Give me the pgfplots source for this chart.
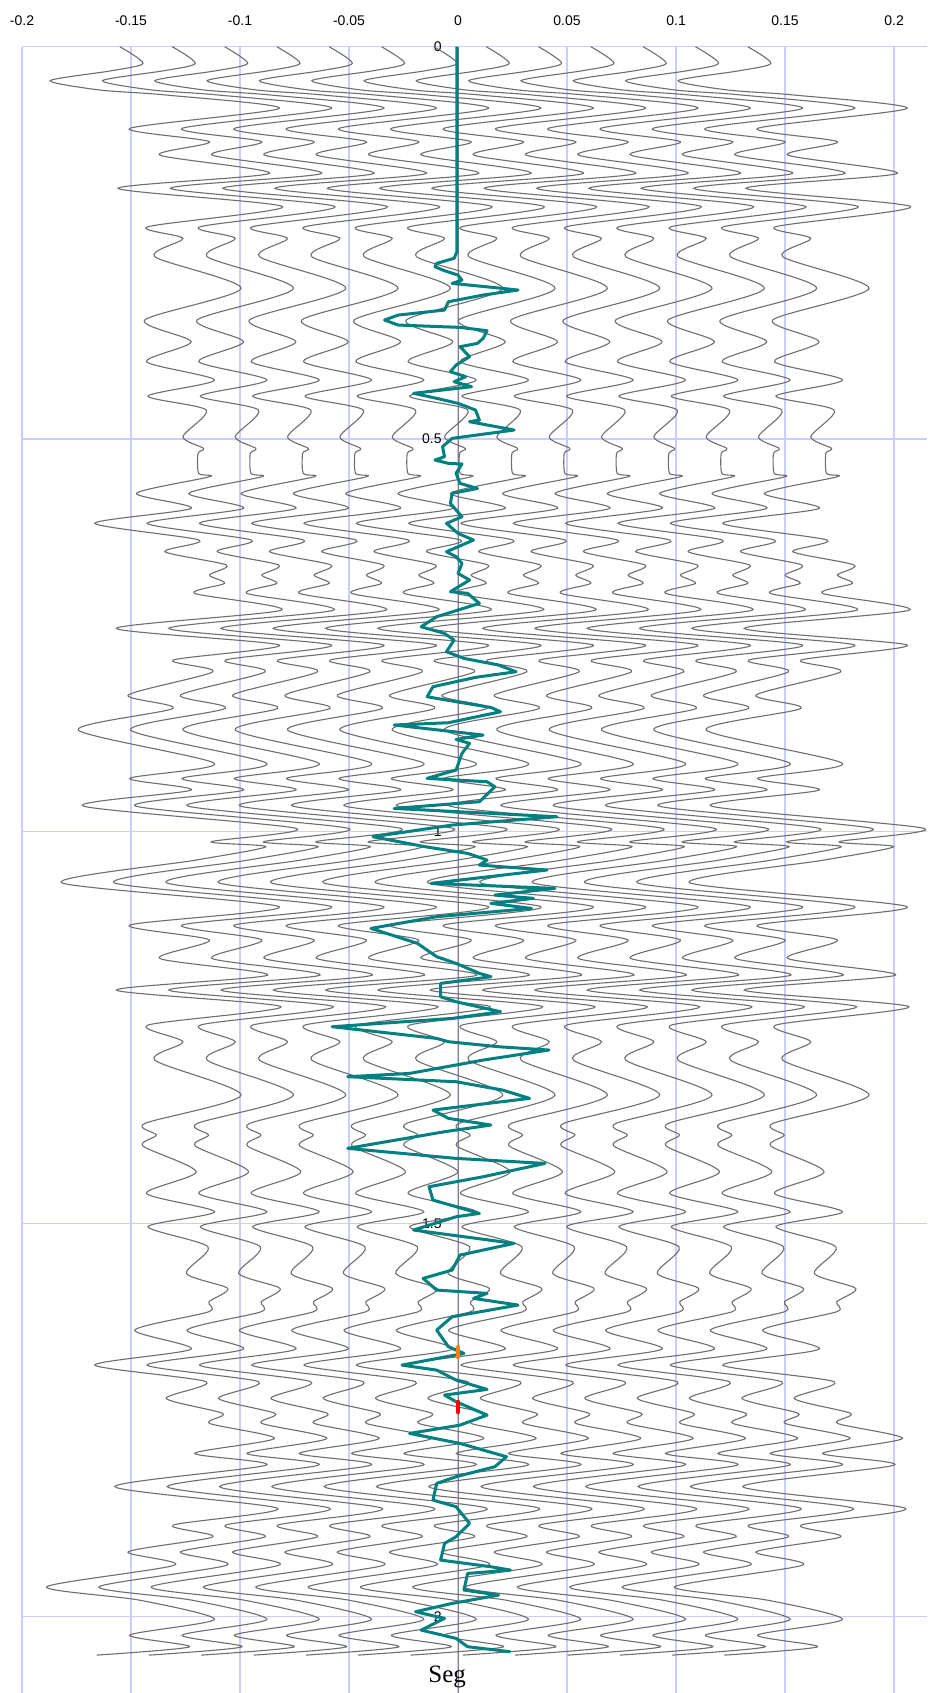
\documentclass[border=0pt]{standalone}
\usepackage{fontspec}
\setmainfont{Liberation Sans}
\newfontfamily\seriffont{Liberation Serif}
\usepackage{pgfplots}
\usepackage{pgfplotstable}
\pgfplotsset{compat=1.18}
\usetikzlibrary{calc}
\definecolor{gridc}{RGB}{204,204,255}
\definecolor{trgray}{RGB}{110,110,110}
\definecolor{tealc}{RGB}{0,128,128}
\definecolor{axgray}{RGB}{128,128,128}

\pgfplotstableread{
t a
0.000 -0.0111
0.0212 -0.0005
0.0306 -0.0149
0.0433 -0.0431
0.0552 -0.0203
0.0616 0.0102
0.0786 0.0620
0.1041 -0.0066
0.1211 0.0300
0.1381 0.0072
0.1614 0.0575
0.1805 -0.0119
0.2039 0.0636
0.2294 0.0018
0.2443 0.0178
0.2676 0.0049
0.3080 0.0445
0.3483 0.0003
0.3760 0.0216
0.4014 0.0011
0.4248 0.0323
0.4452 0.0018
0.4630 0.0285
0.4970 0.0178
0.5119 0.0273
0.5183 0.0247
0.5437 0.0250
0.5480 0.0300
0.5692 -0.0035
0.5883 0.0216
0.6074 -0.0226
0.6287 0.0252
0.6435 0.0095
0.6605 0.0377
0.6733 0.0300
0.6839 0.0369
0.6967 0.0232
0.7180 0.0630
0.7412 -0.0127
0.7625 0.0620
0.7816 0.0133
0.7965 0.0316
0.8262 -0.0073
0.8432 0.0133
0.8708 -0.0302
0.9133 0.0323
0.9324 -0.0066
0.9473 0.0216
0.9677 -0.0279
0.9961 0.0697
1.0131 0.0308
1.0195 0.0558
1.0365 0.0239
1.0654 -0.0378
1.0960 0.0620
1.1194 -0.0066
1.1384 0.0300
1.1619 0.0072
1.1831 0.0567
1.2022 -0.0127
1.2234 0.0628
1.2468 0.0018
1.2681 0.0178
1.2915 0.0049
1.3360 0.0445
1.3722 0.0003
1.3870 0.0056
1.4010 -0.0005
1.4337 0.0239
1.4613 0.0011
1.4847 0.0323
1.5037 0.0018
1.5293 0.0293
1.5633 0.0194
1.5824 0.0384
1.5994 0.0297
1.6121 0.0297
1.6355 -0.0043
1.6597 0.0216
1.6801 -0.0226
1.7013 0.0285
1.7226 0.0102
1.7417 0.0361
1.7544 0.0300
1.7736 0.0598
1.7926 0.0232
1.8076 0.0560
1.8350 -0.0134
1.8627 0.0613
1.8840 0.0133
1.8989 0.0316
1.9180 -0.0073
1.9350 0.0140
1.9626 -0.0447
1.9797 -0.0020
2.0042 0.0323
2.0242 -0.0066
2.0391 0.0209
2.0497 -0.0218
}\wave

\pgfplotstableread{
t x
0.0000 -0.0005
0.2612 -0.0005
0.2697 -0.0018
0.2761 -0.0098
0.2804 -0.0106
0.2855 -0.0062
0.2910 0.0000
0.2974 0.0018
0.3016 -0.0027
0.3080 0.0204
0.3101 0.0275
0.3165 0.0115
0.3250 -0.0044
0.3356 -0.0062
0.3420 -0.0275
0.3483 -0.0337
0.3547 -0.0275
0.3577 0.0009
0.3619 0.0133
0.3717 0.0115
0.3781 0.0089
0.3823 0.0009
0.3951 0.0053
0.4057 -0.0009
0.4142 -0.0035
0.4205 0.0035
0.4269 -0.0018
0.4333 0.0062
0.4417 -0.0204
0.4481 -0.0098
0.4545 0.0000
0.4630 0.0080
0.4757 0.0098
0.4779 0.0053
0.4885 0.0257
0.4991 -0.0027
0.5097 -0.0071
0.5225 -0.0062
0.5267 -0.0106
0.5310 -0.0044
0.5318 0.0018
0.5437 -0.0009
0.5565 0.0009
0.5629 0.0089
0.5692 -0.0027
0.5820 -0.0035
0.5990 0.0018
0.6075 -0.0053
0.6202 0.0000
0.6287 0.0071
0.6436 -0.0053
0.6499 -0.0009
0.6584 0.0018
0.6712 0.0000
0.6797 0.0053
0.6945 -0.0035
0.6966 0.0044
0.7094 0.0098
0.7264 -0.0098
0.7392 -0.0169
0.7477 -0.0062
0.7561 -0.0018
0.7710 -0.0053
0.7795 0.0027
0.7880 0.0186
0.7965 0.0266
0.8037 0.0080
0.8156 -0.0115
0.8284 -0.0142
0.8347 -0.0009
0.8420 0.0151
0.8475 0.0195
0.8615 -0.0044
0.8644 -0.0293
0.8772 0.0115
0.8828 -0.0009
0.8878 0.0053
0.9006 0.0018
0.9218 -0.0009
0.9324 -0.0142
0.9367 0.0133
0.9431 0.0169
0.9622 0.0098
0.9707 -0.0293
0.9813 0.0453
0.9919 -0.0027
1.0068 -0.0390
1.0195 -0.0151
1.0280 0.0044
1.0365 0.0133
1.0429 0.0098
1.0492 0.0408
1.0662 -0.0124
1.0726 0.0444
1.0811 0.0169
1.0853 0.0346
1.0917 0.0151
1.0981 0.0337
1.1087 -0.0098
1.1236 -0.0399
1.1427 -0.0186
1.1597 -0.0098
1.1682 -0.0009
1.1809 0.0098
1.1852 0.0151
1.1937 -0.0080
1.2107 -0.0080
1.2171 -0.0009
1.2298 0.0195
1.2383 -0.0027
1.2489 -0.0577
1.2638 -0.0098
1.2680 -0.0044
1.2744 0.0186
1.2786 0.0417
1.2914 0.0115
1.3084 -0.0222
1.3126 -0.0506
1.3190 -0.0009
1.3296 0.0204
1.3402 0.0328
1.3551 -0.0115
1.3657 -0.0044
1.3742 0.0151
1.3827 -0.0062
1.4039 -0.0506
1.4167 -0.0009
1.4231 0.0399
1.4401 0.0115
1.4528 -0.0133
1.4698 -0.0115
1.4868 0.0098
1.4911 -0.0009
1.5080 -0.0204
1.5250 0.0257
1.5399 0.0009
1.5590 -0.0027
1.5696 -0.0160
1.5845 -0.0098
1.5887 0.0133
1.5951 0.0071
1.6036 0.0275
1.6185 -0.0027
1.6355 -0.0098
1.6567 -0.0044
1.6652 0.0027
1.6801 -0.0257
1.6865 -0.0098
1.6992 -0.0009
1.7111 0.0133
1.7183 -0.0062
1.7268 -0.0009
1.7438 0.0133
1.7566 0.0009
1.7672 -0.0222
1.7799 0.0009
1.7969 0.0222
1.8096 0.0169
1.8224 -0.0009
1.8309 -0.0098
1.8521 -0.0115
1.8606 -0.0009
1.8818 0.0053
1.8988 -0.0009
1.9073 -0.0062
1.9286 -0.0080
1.9371 0.0151
1.9413 0.0240
1.9456 0.0044
1.9668 0.0027
1.9732 0.0186
1.9838 -0.0027
1.9944 -0.0195
2.0029 -0.0062
2.0178 -0.0169
2.0284 -0.0009
2.0390 0.0044
2.0454 0.0240
}\tealtrace

\begin{document}
\begin{tikzpicture}
\begin{axis}[
  scale only axis,
  width=452.5pt, height=823.15pt,
  xmin=-0.2, xmax=0.2151, ymin=0, ymax=2.098,
  y dir=reverse,
  enlargelimits=false,
  clip=true,
  axis line style={draw=none},
  major tick length=0pt,
  xtick={-0.2,-0.15,-0.1,-0.05,0,0.05,0.1,0.15,0.2},
  xticklabels={-0.2,-0.15,-0.1,-0.05,0,0.05,0.1,0.15,0.2},
  xticklabel pos=upper,
  ytick={0,0.5,1,1.5,2},
  yticklabels={0,0.5,1,1.5,2},
  grid=major,
  grid style={color=gridc, line width=0.6pt},
  tick label style={font=\fontsize{7}{8}\selectfont},
  yticklabel style={anchor=east, xshift=213.3pt},
  xticklabel style={yshift=7pt},
  extra x ticks={0},
  extra x tick labels={},
  extra x tick style={grid style={color=axgray, line width=0.5pt}},
]
\pgfplotsinvokeforeach{-6,-5,-4,-3,-2,-1,0,1,2,3,4,5,6}{
  \addplot[color=trgray, line width=0.55pt, smooth, tension=0.45, forget plot]
    table[x expr={\thisrow{a}+(#1)*0.024}, y=t]{\wave};
}
\addplot[color=tealc, line width=1.5pt, line join=round] table[x=x, y=t]{\tealtrace};
\addplot[color=orange, line width=2pt, line cap=round] coordinates {(0,1.657) (0,1.670)};
\addplot[color=red, line width=2.2pt, line cap=round] coordinates {(0,1.727) (0,1.740)};
\node[font=\seriffont\fontsize{12.5}{14}\selectfont] at (axis cs:-0.005,2.077) {Seg};
\end{axis}
\pgfresetboundingbox
\path[use as bounding box] ($(current axis.south west)+(-11pt,0)$) rectangle ($(current axis.north east)+(0,23.35pt)$);
\end{tikzpicture}
\end{document}
